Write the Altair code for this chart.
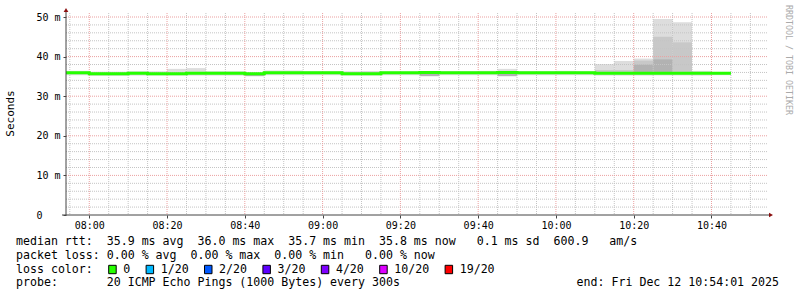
import altair as alt
import pandas as pd

# ---------------- data ----------------
times = ["07:50", "07:55", "08:00", "08:05", "08:10", "08:15", "08:20", "08:25", "08:30",
         "08:35", "08:40", "08:45", "08:50", "08:55", "09:00", "09:05", "09:10", "09:15",
         "09:20", "09:25", "09:30", "09:35", "09:40", "09:45", "09:50", "09:55", "10:00",
         "10:05", "10:10", "10:15", "10:20", "10:25", "10:30", "10:35", "10:40"]
median = [35.9, 35.9, 35.7, 35.7, 35.8, 35.7, 35.7, 35.8, 35.8,
          35.8, 35.7, 35.9, 35.9, 35.9, 35.9, 35.7, 35.7, 35.9,
          35.9, 36.0, 35.9, 35.9, 35.9, 36.0, 35.9, 35.9, 35.9,
          35.9, 35.8, 35.8, 35.8, 35.8, 35.8, 35.8, 35.8]
smoke_min = [35.3, 35.3, 35.1, 35.1, 35.2, 35.2, 35.2, 35.2, 35.2,
             35.2, 35.0, 35.3, 35.3, 35.3, 35.3, 35.2, 35.2, 35.3,
             35.3, 35.0, 35.3, 35.3, 35.3, 35.0, 35.3, 35.3, 35.3,
             35.3, 35.2, 35.2, 35.2, 35.2, 35.2, 35.2, 35.3]
smoke_max = [36.4, 36.4, 36.2, 36.2, 36.3, 36.3, 36.9, 37.1, 36.3,
             36.3, 36.0, 36.5, 36.5, 36.3, 36.3, 36.2, 36.3, 36.2,
             36.2, 36.2, 36.3, 36.3, 36.4, 36.9, 36.3, 36.3, 36.4,
             36.3, 38.1, 38.9, 39.5, 49.5, 48.7, 36.4, 36.1]
mid_hi = [35.9, 35.9, 35.7, 35.7, 35.8, 35.7, 35.7, 35.8, 35.8,
          35.8, 35.7, 35.9, 35.9, 35.9, 35.9, 36.2, 36.2, 35.9,
          35.9, 36.0, 35.9, 35.9, 35.9, 36.0, 35.9, 35.9, 35.9,
          35.9, 36.6, 36.6, 39.0, 45.0, 43.6, 35.8, 35.8]
dark_hi = [35.9, 35.9, 35.7, 35.7, 35.8, 35.7, 35.7, 35.8, 35.8,
           35.8, 35.7, 35.9, 35.9, 35.9, 35.9, 35.7, 35.7, 35.9,
           35.9, 36.0, 35.9, 35.9, 35.9, 36.0, 35.9, 35.9, 35.9,
           35.9, 35.8, 35.8, 38.0, 39.3, 35.8, 35.8, 35.8]
dark_lo = [35.9, 35.9, 35.7, 35.7, 35.8, 35.7, 35.7, 35.8, 35.8,
           35.8, 35.1, 35.9, 35.9, 35.9, 35.9, 35.7, 35.7, 35.9,
           35.9, 35.1, 35.9, 35.9, 35.9, 35.1, 35.9, 35.9, 35.9,
           35.9, 35.8, 35.8, 35.8, 35.8, 35.8, 35.8, 35.8]
series_end = "10:45"
view_start, view_end = "07:54:01", "10:54:01"

x_tick_labels = ["08:00", "08:20", "08:40", "09:00", "09:20", "09:40", "10:00", "10:20", "10:40"]
y_tick_values = [0, 10, 20, 30, 40, 50]
y_tick_labels = ["\u00a00", "10 m", "20 m", "30 m", "40 m", "50 m"]

rtt_stats = {"avg": 35.9, "max": 36.0, "min": 35.7, "now": 35.8, "sd": 0.1, "am/s": 600.9}
loss_stats = {"avg": 0.00, "max": 0.00, "min": 0.00, "now": 0.00}
loss_labels = ["0", "1/20", "2/20", "3/20", "4/20", "10/20", "19/20"]
loss_colors = ["#26ff00", "#00b8ff", "#0059ff", "#5e00ff", "#7e00ff", "#dd00ff", "#ff0000"]
probe_text = "20 ICMP Echo Pings (1000 Bytes) every 300s"
end_text = "end: Fri Dec 12 10:54:01 2025"
y_title = "Seconds"
watermark = "RRDTOOL / TOBI OETIKER"

# ---------------- helpers ----------------
def to_min(s):
    parts = [int(p) for p in s.split(":")]
    m = parts[0] * 60 + parts[1]
    if len(parts) > 2:
        m += parts[2] / 60
    return m

NB = "\u00a0"
def nb(s):
    return s.replace(" ", NB)

W, H = 700, 198
FONT = "DejaVu Sans Mono"
t0, t1 = to_min(view_start), to_min(view_end)
xscale = alt.Scale(domain=[t0, t1], nice=False, zero=False)
yscale = alt.Scale(domain=[0, 50], nice=False, zero=False)

tm = [to_min(s) for s in times]
df = pd.DataFrame({"t": tm, "t2": [v + 5 for v in tm], "med": median, "lo": smoke_min,
                   "hi": smoke_max, "mid_hi": mid_hi, "dark_lo": dark_lo, "dark_hi": dark_hi})
line_df = pd.DataFrame({"t": tm + [to_min(series_end)], "med": median + [median[-1]]})

x_major = [to_min(s) for s in x_tick_labels]
x_minor = [m for m in range(int(t0) + 1, int(t1) + 1) if m % 5 == 0 and m not in x_major]
y_minor = [v for v in range(2, 50, 2) if v not in y_tick_values]

x_expr = " : ".join(f"datum.value == {v} ? '{l}'" for v, l in zip(x_major, x_tick_labels)) + " : ''"
y_expr = " : ".join(f"datum.value == {v} ? '{l}'" for v, l in zip(y_tick_values, y_tick_labels)) + " : ''"

xaxis = alt.Axis(values=x_major, labelExpr=x_expr, title=None, grid=False, domain=False,
                 ticks=True, tickSize=3, tickColor="#444", labelFont=FONT, labelFontSize=10,
                 labelColor="#000", labelPadding=2, labelFlush=False, labelOverlap=False)
yaxis = alt.Axis(values=y_tick_values, labelExpr=y_expr, title=None, grid=False, domain=False,
                 ticks=True, tickSize=3, tickColor="#444", labelFont=FONT, labelFontSize=10,
                 labelColor="#000", labelAlign="left", labelBaseline="middle", labelPadding=27,
                 labelFlush=False, labelOverlap=False)

X = lambda f: alt.X(f, type="quantitative", scale=xscale, axis=xaxis)
Y = lambda f: alt.Y(f, type="quantitative", scale=yscale, axis=yaxis)

base = alt.Chart(df)

# smoke layers
smoke_light = base.mark_rect(color="#dddddd", clip=True).encode(
    x=X("t"), x2="t2", y=Y("lo"), y2="hi")
smoke_mid = base.mark_rect(color="#c8c8c8", clip=True).encode(
    x=X("t"), x2="t2", y=Y("med"), y2="mid_hi")
smoke_dark = base.mark_rect(color="#b2b2b2", clip=True).encode(
    x=X("t"), x2="t2", y=Y("dark_lo"), y2="dark_hi")

# grid
gx_minor = alt.Chart(pd.DataFrame({"m": x_minor})).mark_rule(
    color="#c4c4c4", strokeDash=[1, 1], strokeWidth=1).encode(
    x=X("m"), y=alt.value(-4), y2=alt.value(H))
gy_minor = alt.Chart(pd.DataFrame({"v": y_minor})).mark_rule(
    color="#c4c4c4", strokeDash=[1, 1], strokeWidth=1).encode(
    y=Y("v"), x=alt.value(0), x2=alt.value(W + 2))
gx_major = alt.Chart(pd.DataFrame({"m": x_major})).mark_rule(
    color="#eba0a0", strokeDash=[1, 1], strokeWidth=1).encode(
    x=X("m"), y=alt.value(-4), y2=alt.value(H))
gy_major = alt.Chart(pd.DataFrame({"v": y_tick_values[1:]})).mark_rule(
    color="#eba0a0", strokeDash=[1, 1], strokeWidth=1).encode(
    y=Y("v"), x=alt.value(0), x2=alt.value(W + 2))

# median line
med_line = alt.Chart(line_df).mark_line(
    color="#26ff00", strokeWidth=3, interpolate="step-after", clip=True).encode(
    x=X("t"), y=Y("med"))

one = pd.DataFrame({"k": [0]})
axis_left = alt.Chart(one).mark_rule(color="#444", strokeWidth=1).encode(
    x=alt.value(0), y=alt.value(-7), y2=alt.value(H))
axis_bottom = alt.Chart(one).mark_rule(color="#444", strokeWidth=1).encode(
    y=alt.value(H), x=alt.value(-4), x2=alt.value(W + 4))
arrow_up = alt.Chart(one).mark_point(shape="triangle-up", filled=True, color="#8b1010",
                                     size=22, opacity=1).encode(x=alt.value(0), y=alt.value(-7))
arrow_right = alt.Chart(one).mark_point(shape="triangle-right", filled=True, color="#8b1010",
                                        size=22, opacity=1).encode(x=alt.value(W + 5), y=alt.value(H))

# texts
title_df = pd.DataFrame({"txt": [y_title]})
ytitle = alt.Chart(title_df).mark_text(font=FONT, fontSize=11, angle=270, color="#000",
                                       align="center", baseline="middle").encode(
    x=alt.value(11 - 66), y=alt.value(113.5 - 17), text="txt:N")
wm_df = pd.DataFrame({"txt": [watermark]})
wm = alt.Chart(wm_df).mark_text(font=FONT, fontSize=8.3, angle=90, color="#aaaaaa",
                                align="center", baseline="middle").encode(
    x=alt.value(788 - 66), y=alt.value(60 - 17), text="txt:N")

line1 = (f"median rtt:  {rtt_stats['avg']:.1f} ms avg  {rtt_stats['max']:.1f} ms max  "
         f"{rtt_stats['min']:.1f} ms min  {rtt_stats['now']:.1f} ms now   {rtt_stats['sd']:.1f} ms sd  "
         f"{rtt_stats['am/s']:.1f}   am/s")
line2 = (f"packet loss: {loss_stats['avg']:.2f} % avg  {loss_stats['max']:.2f} % max  "
         f"{loss_stats['min']:.2f} % min   {loss_stats['now']:.2f} % now")
line3 = "loss color:"
line4 = "probe:       " + probe_text
rows = [line1, line2, line3, line4]
row_y0, row_dy = 241.7 - 17, 13.9
rows_df = pd.DataFrame({"txt": [nb(r) for r in rows],
                        "py": [row_y0 + i * row_dy for i in range(len(rows))]})
legend_text = alt.Chart(rows_df).mark_text(font=FONT, fontSize=11.6, color="#000",
                                           align="left", baseline="middle").encode(
    x=alt.value(16 - 66), y=alt.Y("py:Q", scale=None), text="txt:N")
end_df = pd.DataFrame({"txt": [nb(end_text)]})
end_mark = alt.Chart(end_df).mark_text(font=FONT, fontSize=11.6, color="#000",
                                       align="right", baseline="middle").encode(
    x=alt.value(779 - 66), y=alt.value(row_y0 + 3 * row_dy), text="txt:N")

CH = 7.0
sq_x, lab_x = [], []
cur = 108.7 - 66
for lab in loss_labels:
    sq_x.append(cur)
    lab_x.append(cur + 14.6)
    cur = cur + 14.6 + len(lab) * CH + 15.8
loss_df = pd.DataFrame({"lab": loss_labels, "col": loss_colors, "sx": sq_x,
                        "sx2": [v + 7.5 for v in sq_x], "lx": lab_x})
sq_y = row_y0 + 2 * row_dy
squares = alt.Chart(loss_df).mark_rect(stroke="#000", strokeWidth=1).encode(
    x=alt.X("sx:Q", scale=None), x2="sx2:Q",
    y=alt.value(sq_y - 4.2), y2=alt.value(sq_y + 4.2),
    fill=alt.Fill("col:N", scale=None))
sq_labels = alt.Chart(loss_df).mark_text(font=FONT, fontSize=11.6, color="#000",
                                         align="left", baseline="middle").encode(
    x=alt.X("lx:Q", scale=None), y=alt.value(sq_y), text="lab:N")

chart = alt.layer(
    smoke_light, smoke_mid, smoke_dark,
    gx_minor, gy_minor, gx_major, gy_major,
    med_line,
    axis_left, axis_bottom, arrow_up, arrow_right,
    ytitle, wm, legend_text, end_mark, squares, sq_labels,
).properties(
    width=W, height=H,
    padding={"left": 66, "top": 17, "right": 31, "bottom": 82},
    autosize=alt.AutoSizeParams(type="none"),
    background="white",
).configure_view(stroke=None)

chart.save("out.html", embed_options={"renderer": "svg", "actions": False})
